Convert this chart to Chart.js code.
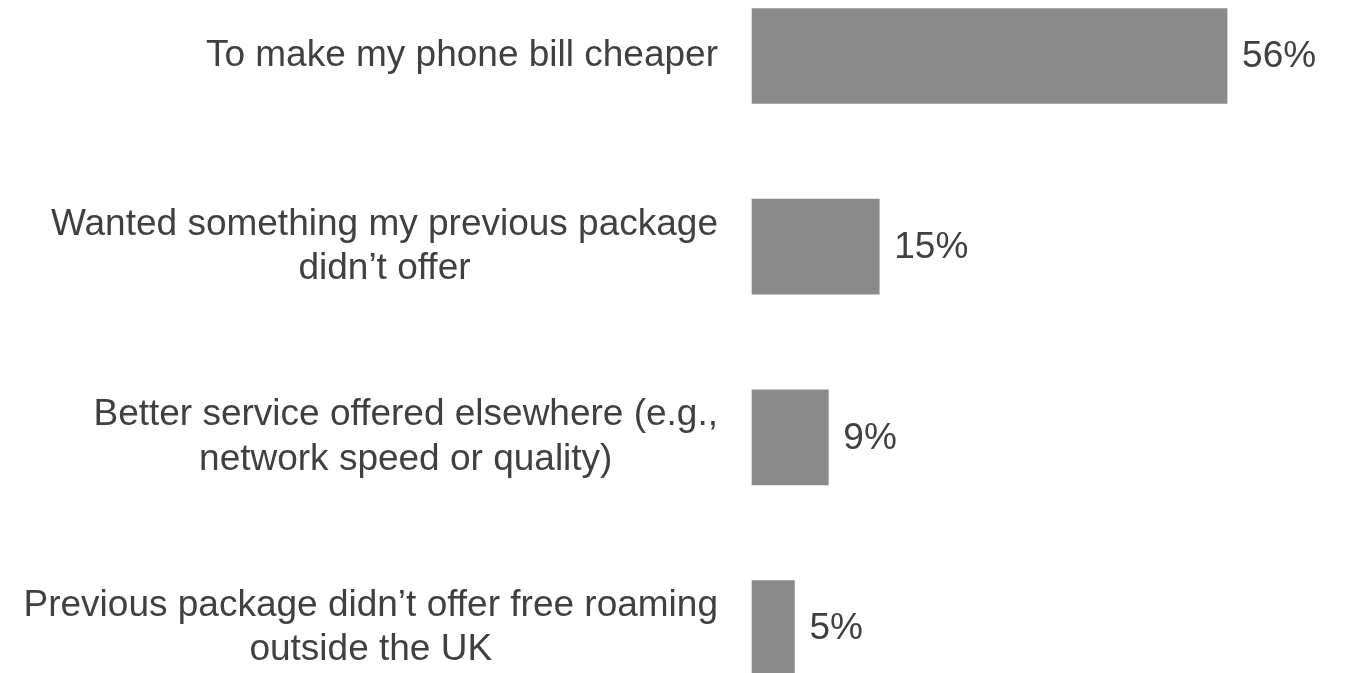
<!DOCTYPE html>
<html lang="en">
<head>
  <meta charset="UTF-8">
  <title>Reasons for switching</title>
  <script src="https://cdn.jsdelivr.net/npm/chart.js"></script>
  <style>
    body { margin: 0; background: #fff; }
    canvas { display: block; }
  </style>
</head>
<body>
  <canvas id="reasons-chart" width="1345" height="673"></canvas>

  <script>
    const categories = [
      "To make my phone bill cheaper",
      ["Wanted something my previous package", "didn\u2019t offer"],
      ["Better service offered elsewhere (e.g.,", "network speed or quality)"],
      ["Previous package didn\u2019t offer free roaming", "outside the UK"]
    ];
    const shares = [56, 15, 9, 5];
    const valueLabels = ["56%", "15%", "9%", "5%"];

    const textColor = "#404040";
    const barColor = "#8a8a8a";
    const fontFamily = "'Liberation Sans', Arial, sans-serif";
    const fontSize = 37;
    const lineHeight = 44.4;
    const labelGap = 34;

    // category labels: block right-aligned against the bars, lines centred inside the block
    const categoryLabelPlugin = {
      id: "categoryLabels",
      afterDraw(chart) {
        const ctx = chart.ctx;
        const yScale = chart.scales.y;
        const rightEdge = chart.chartArea.left - labelGap;
        ctx.save();
        ctx.font = fontSize + "px " + fontFamily;
        ctx.fillStyle = textColor;
        ctx.textAlign = "center";
        ctx.textBaseline = "middle";
        categories.forEach((label, i) => {
          const lines = Array.isArray(label) ? label : [label];
          const blockWidth = Math.max(...lines.map(l => ctx.measureText(l).width));
          const cx = rightEdge - blockWidth / 2;
          const cy = yScale.getPixelForTick(i);
          lines.forEach((line, k) => {
            const y = cy - (lines.length - 1) * lineHeight / 2 + k * lineHeight;
            ctx.fillText(line, cx, y);
          });
        });
        ctx.restore();
      }
    };

    // draws the percentage next to the end of each bar
    const valueLabelPlugin = {
      id: "valueLabels",
      afterDatasetsDraw(chart) {
        const ctx = chart.ctx;
        const meta = chart.getDatasetMeta(0);
        ctx.save();
        ctx.font = fontSize + "px " + fontFamily;
        ctx.fillStyle = textColor;
        ctx.textAlign = "left";
        ctx.textBaseline = "middle";
        meta.data.forEach((bar, i) => {
          ctx.fillText(valueLabels[i], bar.x + 15, bar.y + 1);
        });
        ctx.restore();
      }
    };

    const ctx = document.getElementById("reasons-chart").getContext("2d");
    new Chart(ctx, {
      type: "bar",
      data: {
        labels: categories,
        datasets: [{
          data: shares,
          backgroundColor: barColor,
          borderWidth: 0,
          barThickness: 95,
          clip: false
        }]
      },
      options: {
        indexAxis: "y",
        responsive: false,
        animation: false,
        layout: { padding: { top: 56, bottom: 45, right: 84, left: 752 } },
        plugins: {
          legend: { display: false },
          tooltip: { enabled: false }
        },
        scales: {
          x: {
            display: false,
            min: 0,
            max: 60
          },
          y: {
            display: false,
            offset: false
          }
        }
      },
      plugins: [categoryLabelPlugin, valueLabelPlugin]
    });
  </script>
</body>
</html>
